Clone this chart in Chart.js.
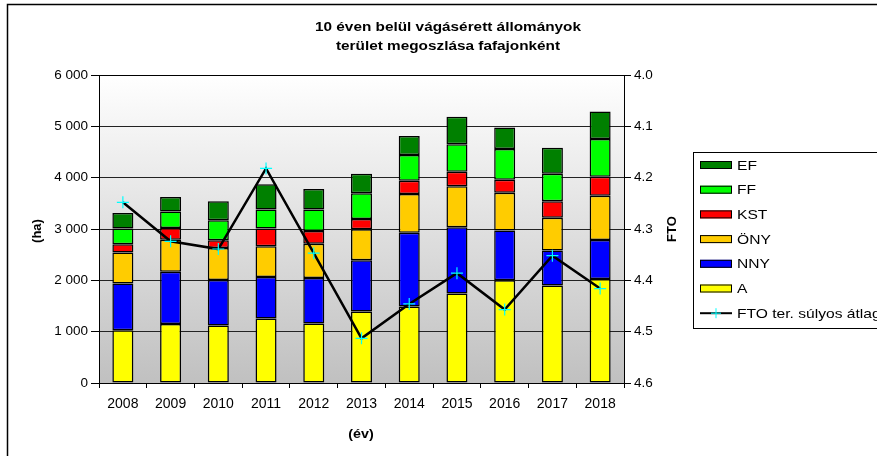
<!DOCTYPE html>
<html>
<head>
<meta charset="utf-8">
<script src="https://cdn.jsdelivr.net/npm/chart.js@4"></script>
<style>
  html, body { margin: 0; padding: 0; background: #fff; }
  #chart { display: block; }
</style>
</head>
<body>
<canvas id="chart" width="877" height="456"></canvas>
<script>
// Data
const years = ['2008', '2009', '2010', '2011', '2012', '2013', '2014', '2015', '2016', '2017', '2018'];
const aValues   = [1030, 1150, 1120, 1257, 1160, 1395, 1490, 1745, 2000, 1900, 2025];
const nnyValues = [910, 1015, 885, 808, 885, 995, 1435, 1290, 970, 680, 760];
const onyValues = [600, 625, 625, 600, 670, 605, 755, 800, 735, 640, 865];
const kstValues = [165, 230, 150, 345, 245, 200, 260, 280, 255, 320, 370];
const ffValues  = [305, 320, 390, 370, 420, 500, 500, 535, 600, 535, 735];
const efValues  = [300, 285, 370, 490, 400, 380, 370, 535, 415, 510, 535];
const ftoValues = [4.248, 4.324, 4.339, 4.182, 4.347, 4.513, 4.446, 4.386, 4.457, 4.352, 4.416];
const leftTicks = [0, 1000, 2000, 3000, 4000, 5000, 6000];
const rightTicks = [4.0, 4.1, 4.2, 4.3, 4.4, 4.5, 4.6];

const FONT = 'Arial, "Liberation Sans", sans-serif';

function spaced(v) {
    return String(v).replace(/\B(?=(\d{3})+(?!\d))/g, ' ');
}

// the original text looks a bit wider than it is tall
function wideText(ctx, text, x, y, sx) {
    ctx.save();
    ctx.translate(x, y);
    ctx.scale(sx, 1);
    ctx.fillText(text, 0, 0);
    ctx.restore();
}

function barSet(label, data, color) {
    return {
        type: 'bar',
        label: label,
        data: data,
        backgroundColor: color,
        borderColor: '#000',
        borderWidth: 1.5,
        borderSkipped: false,
        inflateAmount: 0,
        stack: 's',
        yAxisID: 'y',
        categoryPercentage: 1,
        barPercentage: 0.44,
    };
}

// plot background, frame, titles and the legend box
const decor = {
    id: 'decor',
    beforeDraw(chart) {
        const { ctx, chartArea: a } = chart;
        ctx.save();
        ctx.fillStyle = '#fff';
        ctx.fillRect(0, 0, chart.width, chart.height);
        ctx.strokeStyle = '#000';
        ctx.lineWidth = 1.5;
        ctx.strokeRect(7.5, 4.5, 1000, 1000);
        const g = ctx.createLinearGradient(0, a.top, 0, a.bottom);
        g.addColorStop(0, '#ffffff');
        g.addColorStop(1, '#c0c0c0');
        ctx.fillStyle = g;
        ctx.fillRect(a.left, a.top, a.right - a.left, a.bottom - a.top);
        ctx.restore();
    },
    afterDraw(chart) {
        const { ctx, chartArea: a } = chart;
        ctx.save();
        ctx.strokeStyle = '#000';
        ctx.lineWidth = 1;
        ctx.strokeRect(a.left + 0.5, a.top + 0.5, a.right - a.left, a.bottom - a.top);

        ctx.fillStyle = '#000';
        ctx.textAlign = 'center';
        ctx.textBaseline = 'middle';
        ctx.font = 'bold 13px ' + FONT;
        wideText(ctx, '10 éven belül vágásérett állományok', 448, 27, 1.18);
        wideText(ctx, 'terület megoszlása fafajonként', 448, 46, 1.18);
        wideText(ctx, '(év)', 361, 434, 1.1);

        ctx.save();
        ctx.translate(37, 231);
        ctx.rotate(-Math.PI / 2);
        ctx.fillText('(ha)', 0, 0);
        ctx.restore();
        ctx.save();
        ctx.translate(672, 229);
        ctx.rotate(-Math.PI / 2);
        ctx.fillText('FTO', 0, 0);
        ctx.restore();

        // legend
        ctx.lineWidth = 1;
        ctx.strokeStyle = '#000';
        ctx.strokeRect(693.5, 152.5, 300, 176);
        ctx.font = '13px ' + FONT;
        ctx.textAlign = 'left';
        const ds = chart.data.datasets;
        const bars = ds.filter(d => d.type === 'bar').reverse();
        const line = ds.find(d => d.type === 'line');
        let y = 165;
        bars.forEach(d => {
            ctx.fillStyle = d.backgroundColor;
            ctx.fillRect(700, y - 4, 32, 8);
            ctx.strokeRect(700.5, y - 3.5, 31, 7);
            ctx.fillStyle = '#000';
            wideText(ctx, d.label, 737, y + 1, 1.2);
            y += 24.7;
        });
        ctx.beginPath();
        ctx.moveTo(700, y);
        ctx.lineTo(732, y);
        ctx.lineWidth = 2;
        ctx.strokeStyle = '#000';
        ctx.stroke();
        ctx.beginPath();
        ctx.moveTo(711, y); ctx.lineTo(721, y);
        ctx.moveTo(716, y - 5); ctx.lineTo(716, y + 5);
        ctx.lineWidth = 1;
        ctx.strokeStyle = '#00ffff';
        ctx.stroke();
        ctx.fillStyle = '#000';
        wideText(ctx, line.label, 737, y + 1, 1.2);
        ctx.restore();
    }
};

const ctx = document.getElementById('chart').getContext('2d');
new Chart(ctx, {
    data: {
        labels: years,
        datasets: [
            {
                type: 'line',
                label: 'FTO ter. súlyos átlag',
                data: ftoValues,
                yAxisID: 'y1',
                borderColor: '#000',
                borderWidth: 2.5,
                pointStyle: 'cross',
                pointRadius: 6,
                pointBorderColor: '#00ffff',
                pointBorderWidth: 1.2,
                pointBackgroundColor: '#00ffff',
                tension: 0,
                order: -1,
            },
            barSet('A', aValues, '#ffff00'),
            barSet('NNY', nnyValues, '#0000ff'),
            barSet('ÖNY', onyValues, '#ffcc00'),
            barSet('KST', kstValues, '#ff0000'),
            barSet('FF', ffValues, '#00ff00'),
            barSet('EF', efValues, '#008000'),
        ],
    },
    options: {
        responsive: false,
        animation: false,
        layout: { padding: { top: 75, left: 0, right: 0, bottom: 0 } },
        plugins: {
            legend: { display: false },
            title: { display: false },
            tooltip: { enabled: false },
        },
        scales: {
            x: {
                stacked: true,
                grid: {
                    offset: true,
                    drawOnChartArea: false,
                    tickLength: 5,
                    tickColor: '#000',
                },
                border: { color: '#000' },
                ticks: { color: '#000', padding: 8, font: { family: FONT, size: 14 } },
                afterFit(scale) { scale.height = 73; },
            },
            y: {
                stacked: true,
                position: 'left',
                min: 0,
                max: 6000,
                afterBuildTicks(scale) { scale.ticks = leftTicks.map(v => ({ value: v })); },
                grid: { color: '#222', tickColor: '#000', tickLength: 8 },
                border: { color: '#000' },
                ticks: {
                    color: '#000',
                    padding: 3,
                    font: { family: FONT, size: 13.5 },
                    callback: v => spaced(v),
                },
                afterFit(scale) { scale.width = 99; },
            },
            y1: {
                position: 'right',
                reverse: true,
                min: 4.0,
                max: 4.6,
                afterBuildTicks(scale) { scale.ticks = rightTicks.map(v => ({ value: v })); },
                grid: { drawOnChartArea: false, tickColor: '#000', tickLength: 7 },
                border: { color: '#000' },
                ticks: {
                    color: '#000',
                    padding: 3,
                    font: { family: FONT, size: 13.5 },
                    callback: v => Number(v).toFixed(1),
                },
                afterFit(scale) { scale.width = 877 - 624; },
            },
        },
    },
    plugins: [decor],
});
</script>
</body>
</html>
